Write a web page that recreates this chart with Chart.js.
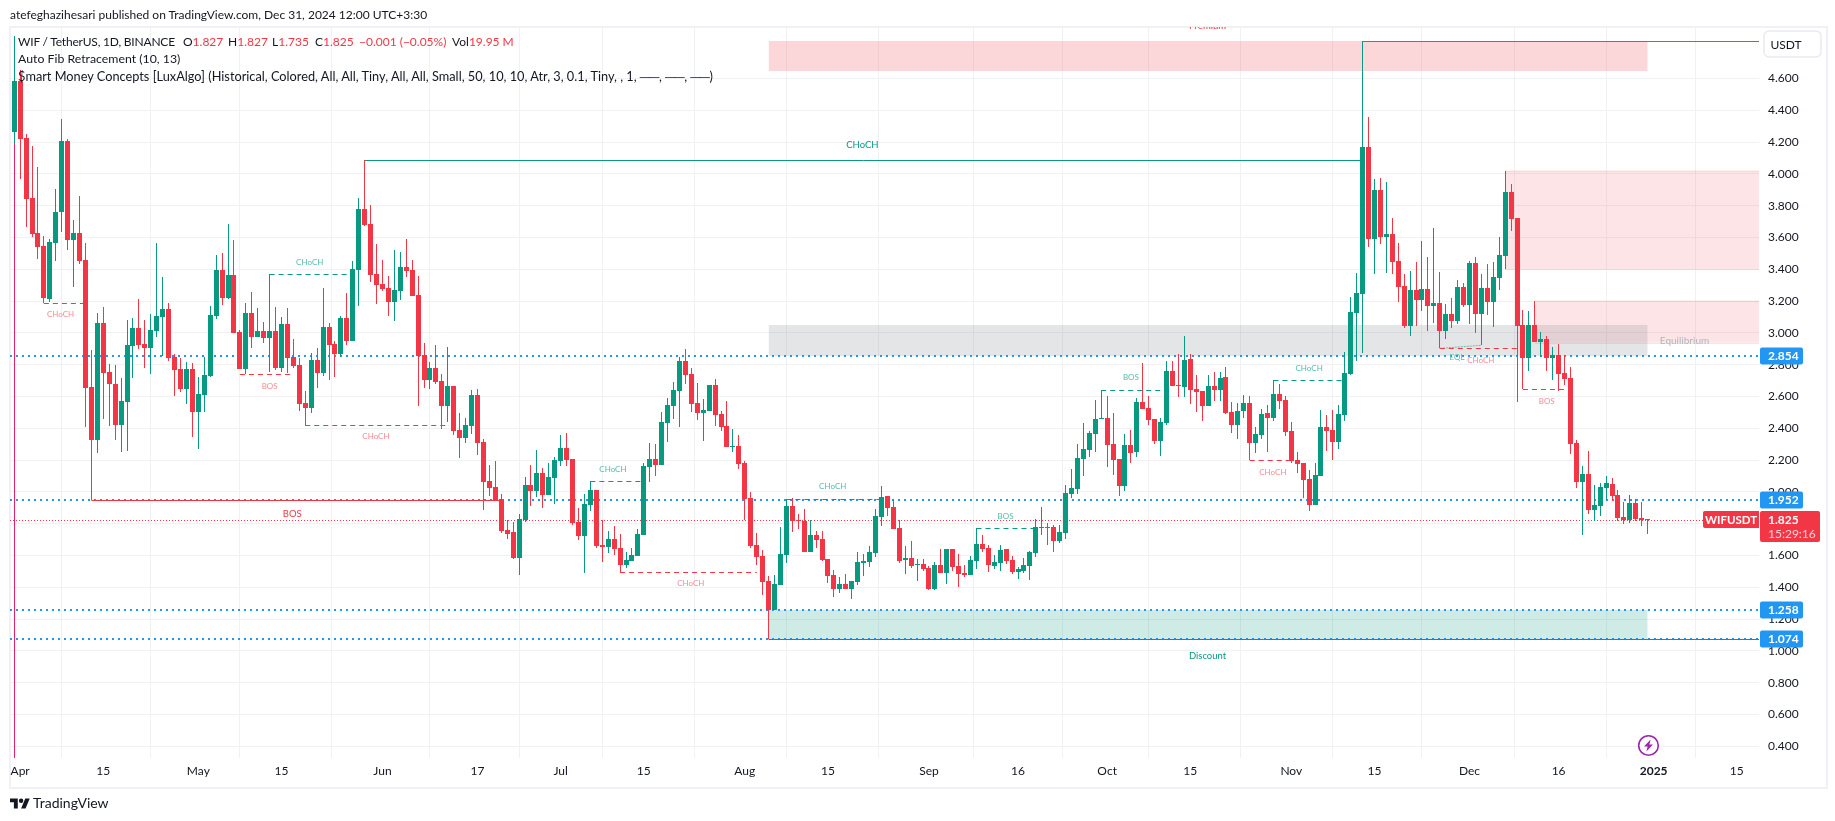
<!DOCTYPE html>
<html>
<head>
<meta charset="utf-8">
<title>WIF / TetherUS</title>
<script src="https://cdn.jsdelivr.net/npm/chart.js"></script>
<style>
html, body { margin: 0; padding: 0; background: #fff; }
body { width: 1835px; height: 821px; position: relative; overflow: hidden; font-family: Lato, sans-serif; color: #131722; }
#chart { position: absolute; left: 0; top: 0; }
.frame { position: absolute; left: 9px; top: 26px; width: 1815px; height: 759px; border: 2px solid #f0f0f6; box-sizing: content-box; pointer-events: none; }
.txt { position: absolute; white-space: pre; font-size: 12px; line-height: 16px; }
.red { color: #f23645; }
.logo { position: absolute; left: 10px; top: 796px; }
.bolt { position: absolute; left: 1637px; top: 734px; }
</style>
</head>
<body>
<div class="frame"></div>
<canvas id="chart" width="1835" height="821"></canvas>
<div class="txt" style="left:10px;top:7px">atefeghazihesari published on TradingView.com, Dec 31, 2024 12:00 UTC+3:30</div>
<div class="txt" style="left:18px;top:34px;letter-spacing:-.2px">WIF / TetherUS, 1D, BINANCE</div>
<div class="txt" style="left:183px;top:34px">O<span class="red">1.827</span></div>
<div class="txt" style="left:228px;top:34px">H<span class="red">1.827</span></div>
<div class="txt" style="left:272px;top:34px">L<span class="red">1.735</span></div>
<div class="txt" style="left:315px;top:34px">C<span class="red">1.825</span></div>
<div class="txt red" style="left:359px;top:34px">−0.001 (−0.05%)</div>
<div class="txt" style="left:452px;top:34px">Vol<span class="red">19.95 M</span></div>
<div class="txt" style="left:18px;top:51px;font-size:12.3px">Auto Fib Retracement (10, 13)</div>
<div class="txt" style="left:18px;top:68px;font-size:12.76px">$mart Money Concepts [LuxAlgo] (Historical, Colored, All, All, Tiny, All, All, Small, 50, 10, 10, Atr, 3, 0.1, Tiny, , 1, ──, ──, ──)</div>
<svg class="logo" width="20" height="16" viewBox="0 0 36 28"><path fill="#131722" d="M14 22H7V11H0V4h14v18zM28 22h-8l7.5-18h8L28 22z"/><circle fill="#131722" cx="20" cy="8" r="4"/></svg>
<div class="txt" style="left:33px;top:795px;font-size:14px">TradingView</div>
<svg class="bolt" width="23" height="23" viewBox="0 0 23 23"><circle cx="11.5" cy="11.5" r="9.8" fill="#fff" stroke="#9c27b0" stroke-width="1.6"/><path fill="#9c27b0" d="M13.6 5.6 7 12.6h3.6l-1.2 4.8 6.6-7h-3.6z"/></svg>

<script>
// Daily candles, 31 Mar 2024 to 31 Dec 2024. Index 0 is 31 Mar.
const opens = [
    4.264,4.585,4.226,3.849,3.629,3.547,3.216,3.566,3.761,4.207,3.585,3.629,3.459,2.66,2.327,3.062,2.754,2.679,2.421,2.566,
    2.918,3.031,2.93,2.905,3.012,3.1,3.15,2.849,2.773,2.647,2.773,2.503,2.61,2.729,3.106,3.396,3.22,3.364,3.006,2.773,
    3.125,2.974,3.012,2.968,3.012,2.779,3.056,2.849,2.798,2.559,2.528,2.83,2.748,3.037,2.93,2.867,3.094,2.949,3.396,3.78,
    3.685,3.371,3.308,3.283,3.195,3.264,3.415,3.396,3.24,2.861,2.704,2.779,2.698,2.54,2.666,2.389,2.339,2.414,2.609,2.314,
    2.068,2.031,1.955,1.76,1.748,1.584,1.823,2.043,2.006,2.119,1.98,2.087,2.194,2.276,2.207,1.811,1.723,1.917,2.012,1.666,
    1.653,1.703,1.647,1.54,1.565,1.597,1.729,2.156,2.207,2.169,2.433,2.54,2.634,2.823,2.741,2.559,2.496,2.509,2.672,2.49,
    2.414,2.282,2.289,2.182,1.962,1.666,1.597,1.439,1.257,1.414,1.603,1.911,1.823,1.817,1.622,1.729,1.703,1.578,1.477,1.389,
    1.421,1.389,1.433,1.553,1.559,1.616,1.842,1.974,1.905,1.773,1.572,1.584,1.54,1.546,1.521,1.389,1.54,1.49,1.641,1.534,
    1.49,1.477,1.565,1.672,1.647,1.534,1.553,1.641,1.572,1.496,1.502,1.534,1.616,1.773,1.779,1.779,1.691,1.741,1.987,2.018,
    2.207,2.263,2.364,2.458,2.465,2.301,2.207,2.037,2.295,2.251,2.565,2.528,2.458,2.32,2.433,2.76,2.672,2.66,2.836,2.647,
    2.634,2.54,2.666,2.641,2.722,2.502,2.421,2.509,2.559,2.307,2.358,2.496,2.465,2.616,2.578,2.383,2.2,2.182,2.081,1.917,
    2.1,2.408,2.389,2.314,2.483,2.741,3.125,3.245,4.169,3.59,3.899,3.603,3.622,3.452,3.295,3.043,3.27,3.207,3.276,3.169,
    3.188,3.012,3.119,3.075,3.289,3.175,3.44,3.119,3.282,3.194,3.345,3.484,3.886,3.723,3.05,2.842,3.05,2.943,2.962,2.842,
    2.861,2.748,2.716,2.307,2.062,2.112,1.886,1.911,2.024,2.05,1.98,1.842,1.823,1.93,1.836,1.827
];
const highs = [
    4.868,4.654,4.249,4.178,4.046,3.61,3.591,3.905,4.346,4.22,3.71,3.861,3.566,2.893,3.125,3.163,2.805,2.798,2.717,3.081,
    3.094,3.213,3.081,3.119,3.566,3.352,3.188,2.867,2.842,2.817,2.811,2.723,2.849,3.169,3.49,3.503,3.685,3.585,3.018,3.188,
    3.257,3.157,3.069,3.371,3.163,3.1,3.157,2.962,2.842,2.635,2.874,2.905,3.283,3.062,2.949,3.106,3.25,3.452,3.849,4.086,
    3.805,3.559,3.459,3.358,3.522,3.509,3.591,3.459,3.358,2.937,2.817,2.924,2.742,2.912,2.666,2.496,2.465,2.641,2.647,2.333,
    2.169,2.194,1.987,1.823,1.811,1.861,2.094,2.169,2.263,2.15,2.182,2.219,2.358,2.37,2.207,1.899,1.987,2.068,2.012,1.823,
    1.754,1.785,1.735,1.622,1.647,1.767,2.182,2.307,2.301,2.502,2.59,2.691,2.848,2.899,2.779,2.685,2.584,2.672,2.71,2.509,
    2.572,2.395,2.358,2.194,1.999,1.741,1.634,1.471,1.477,1.779,1.957,1.962,1.861,1.892,1.823,1.754,1.754,1.578,1.509,1.465,
    1.484,1.439,1.622,1.609,1.659,1.892,2.037,1.974,1.955,1.823,1.659,1.691,1.578,1.578,1.534,1.559,1.641,1.641,1.641,1.609,
    1.54,1.597,1.771,1.729,1.666,1.603,1.666,1.641,1.597,1.528,1.584,1.628,1.829,1.905,1.804,1.792,1.792,2.043,2.144,2.301,
    2.433,2.383,2.578,2.639,2.603,2.496,2.207,2.364,2.389,2.59,2.811,2.603,2.458,2.465,2.823,2.823,2.867,2.98,2.867,2.735,
    2.634,2.735,2.754,2.754,2.785,2.565,2.559,2.609,2.603,2.408,2.521,2.546,2.703,2.678,2.603,2.439,2.251,2.182,2.138,2.182,
    2.515,2.483,2.515,2.546,2.88,3.226,3.377,4.834,4.358,3.968,3.974,3.949,3.723,3.565,3.37,3.389,3.446,3.578,3.477,3.66,
    3.383,3.182,3.219,3.333,3.314,3.452,3.477,3.37,3.433,3.446,3.603,4.018,3.936,3.723,3.144,3.138,3.2,3.006,2.98,2.911,
    2.93,2.861,2.785,2.326,2.163,2.257,2.043,2.056,2.1,2.087,2.012,1.936,1.98,1.955,1.936,1.827
];
const lows = [
    4.193,3.968,3.668,3.606,3.465,3.186,3.192,3.453,3.635,3.522,3.291,3.434,2.408,1.947,2.245,2.459,2.415,2.327,2.251,2.257,
    2.717,2.899,2.779,2.742,2.974,2.855,2.823,2.603,2.628,2.553,2.345,2.27,2.503,2.723,3.088,3.176,3.213,3.0,2.773,2.74,
    2.905,2.974,2.937,2.754,2.767,2.754,2.748,2.779,2.509,2.415,2.496,2.654,2.729,2.704,2.723,2.849,2.924,2.949,3.169,3.673,
    3.318,3.182,3.264,3.106,3.075,3.207,3.352,3.23,2.54,2.654,2.647,2.68,2.396,2.44,2.358,2.213,2.307,2.364,2.232,1.886,
    1.974,1.949,1.741,1.703,1.578,1.477,1.811,1.911,1.968,1.899,1.98,1.924,2.163,2.163,1.792,1.697,1.49,1.88,1.647,1.559,
    1.616,1.603,1.494,1.521,1.565,1.597,1.729,2.062,2.1,2.169,2.314,2.458,2.408,2.678,2.502,2.452,2.32,2.509,2.414,2.383,
    2.282,2.251,2.144,1.823,1.647,1.54,1.351,1.074,1.257,1.414,1.553,1.748,1.767,1.622,1.622,1.647,1.565,1.427,1.339,1.364,
    1.389,1.326,1.414,1.471,1.527,1.591,1.785,1.848,1.767,1.553,1.483,1.521,1.439,1.502,1.383,1.383,1.49,1.421,1.502,1.402,
    1.465,1.477,1.515,1.622,1.496,1.515,1.502,1.546,1.483,1.452,1.49,1.446,1.591,1.729,1.666,1.622,1.678,1.704,1.962,1.987,
    2.1,2.219,2.251,2.458,2.156,2.106,1.974,2.005,2.182,2.219,2.521,2.421,2.301,2.226,2.421,2.666,2.597,2.597,2.553,2.502,
    2.446,2.54,2.572,2.572,2.49,2.37,2.333,2.465,2.2,2.245,2.333,2.251,2.446,2.521,2.352,2.182,2.119,1.962,1.88,1.917,
    2.1,2.257,2.2,2.27,2.446,2.735,2.823,2.876,3.54,3.37,3.559,3.377,3.37,3.194,3.031,2.98,3.043,3.138,3.012,3.062,
    2.903,2.962,3.03,3.056,3.163,3.056,2.999,2.924,3.113,3.037,3.27,3.402,3.641,2.565,2.645,2.76,2.943,2.848,2.76,2.704,
    2.634,2.672,2.238,2.024,1.729,1.861,1.817,1.848,1.949,1.943,1.817,1.798,1.804,1.817,1.785,1.735
];
const closes = [
    4.585,4.22,3.842,3.622,3.54,3.22,3.572,3.761,4.207,3.585,3.629,3.452,2.656,2.327,3.062,2.748,2.679,2.421,2.572,2.924,
    3.031,2.924,2.905,3.018,3.106,3.15,2.842,2.767,2.647,2.773,2.503,2.616,2.735,3.113,3.396,3.22,3.364,3.0,2.773,3.125,
    2.974,3.012,2.968,3.012,2.779,3.056,2.842,2.792,2.553,2.528,2.83,2.748,3.037,2.924,2.867,3.094,2.949,3.402,3.78,3.679,
    3.364,3.302,3.276,3.195,3.27,3.415,3.39,3.232,2.855,2.704,2.779,2.691,2.54,2.666,2.383,2.339,2.421,2.609,2.307,2.062,
    2.024,1.949,1.754,1.735,1.584,1.829,2.043,2.006,2.119,1.98,2.094,2.2,2.276,2.2,1.804,1.723,1.924,2.012,1.66,1.653,
    1.703,1.641,1.54,1.572,1.603,1.735,2.163,2.207,2.169,2.439,2.546,2.641,2.823,2.735,2.553,2.496,2.515,2.672,2.483,2.408,
    2.282,2.289,2.175,1.955,1.66,1.59,1.433,1.257,1.421,1.609,1.911,1.817,1.817,1.622,1.729,1.697,1.572,1.471,1.389,1.421,
    1.389,1.439,1.559,1.565,1.622,1.848,1.968,1.899,1.767,1.565,1.584,1.534,1.546,1.515,1.389,1.54,1.49,1.641,1.527,1.483,
    1.477,1.572,1.672,1.641,1.54,1.559,1.634,1.565,1.496,1.515,1.54,1.622,1.779,1.779,1.773,1.691,1.748,1.993,2.024,2.213,
    2.27,2.37,2.458,2.465,2.295,2.2,2.037,2.295,2.245,2.565,2.521,2.452,2.32,2.439,2.76,2.666,2.666,2.829,2.641,2.628,
    2.54,2.666,2.641,2.716,2.496,2.421,2.509,2.559,2.307,2.364,2.49,2.465,2.616,2.572,2.377,2.194,2.175,2.075,1.917,2.106,
    2.408,2.383,2.314,2.49,2.748,3.131,3.251,4.169,3.59,3.899,3.603,3.622,3.446,3.289,3.043,3.27,3.207,3.276,3.169,3.188,
    3.012,3.119,3.075,3.289,3.175,3.44,3.119,3.282,3.194,3.352,3.49,3.886,3.716,3.043,2.842,3.05,2.943,2.962,2.842,2.861,
    2.741,2.71,2.301,2.062,2.112,1.886,1.917,2.031,2.056,1.974,1.836,1.823,1.93,1.829,1.823,1.825
];

// Date axis: candle index of each tick, with its label
const tickIndex = [1, 15, 31, 45, 62, 78, 92, 106, 123, 137, 154, 169, 184, 198, 215, 229, 245, 260, 276, 290];
const tickLabels = ['Apr', '15', 'May', '15', 'Jun', '17', 'Jul', '15', 'Aug', '15', 'Sep', '16', 'Oct', '15', 'Nov', '15', 'Dec', '16', '2025', '15'];
const priceTicks = [0.4, 0.6, 0.8, 1.0, 1.2, 1.4, 1.6, 1.8, 2.0, 2.2, 2.4, 2.6, 2.8, 3.0, 3.2, 3.4, 3.6, 3.8, 4.0, 4.2, 4.4, 4.6];

// Auto Fib levels and last price
const fibLevels = [2.854, 1.952, 1.258, 1.074];
const lastPrice = 1.825;

// Smart Money zones: premium, equilibrium, discount, then two order blocks
const zoneStart = [127, 127, 127, 251, 256];
const zoneEnd = [275, 275, 275, 294, 294];
const zoneTop = [4.836, 3.05, 1.258, 4.018, 3.2];
const zoneBottom = [4.647, 2.854, 1.074, 3.402, 2.938];

// Dashed structure breaks
const breakSide = ['down', 'up', 'down', 'down', 'up', 'down', 'up', 'up', 'up', 'up', 'down', 'down', 'down'];
const breakStart = [5, 43, 38, 49, 97, 102, 130, 162, 183, 212, 208, 240, 254];
const breakEnd = [12, 57, 47, 73, 106, 125, 146, 172, 194, 224, 215, 253, 261];
const breakLevel = [3.186, 3.371, 2.74, 2.419, 2.066, 1.494, 1.957, 1.771, 2.639, 2.702, 2.198, 2.903, 2.645];

// Text on the chart: small marks, then large marks and zone names
const noteText = ['CHoCH', 'CHoCH', 'BOS', 'CHoCH', 'CHoCH', 'CHoCH', 'CHoCH', 'BOS', 'BOS', 'CHoCH', 'CHoCH', 'CHoCH', 'EQL', 'BOS', 'BOS', 'CHoCH', 'Premium', 'Equilibrium', 'Discount'];
const noteIndex = [7.8, 49.75, 43, 60.9, 100.8, 113.9, 137.8, 166.9, 188, 218, 211.9, 246.9, 242.9, 258, 46.8, 142.8, 200.9, 281.2, 200.9];
const notePrice = [3.117, 3.444, 2.664, 2.35, 2.14, 1.425, 2.035, 1.846, 2.72, 2.777, 2.123, 2.827, 2.844, 2.569, 1.859, 4.182, 4.933, 2.951, 0.969];
const noteSide = ['down', 'up', 'down', 'down', 'up', 'down', 'up', 'up', 'up', 'up', 'down', 'down', 'up', 'down', 'down', 'up', 'down', 'zone', 'up'];

const UP = '#089981', DOWN = '#f23645';
const FONT = 'Lato, sans-serif';
const X_MIN = -0.707, X_MAX = 293.74;
const Y_MIN = 0.3264, Y_MAX = 4.924;

const candleColors = closes.map((c, i) => (c >= opens[i] ? UP : DOWN));

function lineSet(points, color, width, dash, order, extra) {
    return Object.assign({
        type: 'line', data: points, borderColor: color, borderWidth: width, borderDash: dash || [],
        pointRadius: 0, tension: 0, fill: false, order: order, snap: true
    }, extra || {});
}

const datasets = [];

// zones sit behind everything
const zoneColors = ['rgba(242,54,69,.2)', 'rgba(120,123,134,.2)', 'rgba(8,153,129,.2)', 'rgba(242,54,69,.13)', 'rgba(242,54,69,.13)'];
zoneStart.forEach((start, z) => {
    datasets.push(lineSet(
        [{ x: start, y: zoneTop[z] }, { x: zoneEnd[z], y: zoneTop[z] }],
        z > 2 ? 'rgba(242,54,69,.15)' : 'transparent', z > 2 ? 1 : 0, null, 9,
        { fill: { value: zoneBottom[z] }, backgroundColor: zoneColors[z], snap: false }
    ));
    if (z > 2) datasets.push(lineSet([{ x: start, y: zoneBottom[z] }, { x: zoneEnd[z], y: zoneBottom[z] }], 'rgba(242,54,69,.15)', 1, null, 9));
});

// fib levels and last price, dotted across the whole pane
fibLevels.forEach(level => {
    datasets.push(lineSet([{ x: X_MIN, y: level }, { x: X_MAX, y: level }], '#2196f3', 2, [2, 4], 8));
});
datasets.push(lineSet([{ x: X_MIN, y: lastPrice }, { x: X_MAX, y: lastPrice }], DOWN, 1, [1, 2], 8));

// solid structure lines
datasets.push(lineSet([{ x: 13, y: 1.947 }, { x: 82, y: 1.947 }], DOWN, 1, null, 7));
datasets.push(lineSet([{ x: 59, y: 4.086 }, { x: 227, y: 4.086 }], UP, 1, null, 7));
datasets.push(lineSet([{ x: 227, y: 4.834 }, { x: X_MAX, y: 4.834 }], '#e04550', 1, null, 7));
datasets.push(lineSet([{ x: 127, y: 1.074 }, { x: X_MAX, y: 1.074 }], UP, 1, null, 7));
// the pink session line under the first candle
datasets.push(lineSet([{ x: 0, y: 4.193 }, { x: 0, y: Y_MIN }], '#e91e63', 1, null, 7, { snap: 'x' }));

breakStart.forEach((start, b) => {
    datasets.push(lineSet([{ x: start, y: breakLevel[b] }, { x: breakEnd[b], y: breakLevel[b] }], breakSide[b] === 'up' ? UP : DOWN, 1, [5, 4], 7));
});
// equal lows
datasets.push(lineSet([{ x: 240, y: 2.903 }, { x: 247, y: 2.922 }], '#5fbfae', 1, [2, 1], 7, { snap: false }));

datasets.push({
    type: 'bar', label: 'wick', order: 2, grouped: false, barThickness: 1, inflateAmount: 0, borderWidth: 0,
    data: highs.map((h, i) => ({ x: i, y: [lows[i], h] })), backgroundColor: candleColors
});
datasets.push({
    type: 'bar', label: 'body', order: 1, grouped: false, barThickness: 5, inflateAmount: 0, borderWidth: 0,
    data: opens.map((o, i) => ({ x: i, y: [o, closes[i]] })), backgroundColor: candleColors
});

// Chart.js leaves marks on fractional pixels, TradingView draws them crisp
const pixelSnap = {
    id: 'pixelSnap',
    afterDatasetsUpdate(chart) {
        chart.data.datasets.forEach((ds, k) => {
            const els = chart.getDatasetMeta(k).data;
            if (ds.type === 'bar') {
                els.forEach(el => {
                    const top = Math.round(Math.min(el.y, el.base));
                    let bottom = Math.round(Math.max(el.y, el.base));
                    if (bottom === top) bottom = top + 1;
                    el.x = Math.floor(el.x) + 0.5;
                    el.y = top;
                    el.base = bottom;
                });
            } else if (ds.snap === true) {
                const half = ds.borderWidth % 2 ? 0.5 : 0;
                els.forEach(el => { el.y = Math.round(el.y) + half; });
            } else if (ds.snap === 'x') {
                els.forEach(el => { el.x = Math.floor(el.x) + 0.5; });
            }
        });
    }
};

function noteStyle(i) {
    const small = i < 14;
    if (noteSide[i] === 'zone') return { font: '10px ' + FONT, color: '#b2b5be' };
    const color = noteSide[i] === 'up' ? (small ? '#55bcab' : UP) : (small ? '#fa8b94' : DOWN);
    return { font: (small ? '8px ' : '9.5px ') + FONT, color };
}

const chartNotes = {
    id: 'chartNotes',
    afterDatasetsDraw(chart) {
        const { ctx, chartArea, scales } = chart;
        ctx.save();
        ctx.beginPath();
        ctx.rect(chartArea.left, chartArea.top, chartArea.right - chartArea.left, chartArea.bottom - chartArea.top);
        ctx.clip();
        ctx.textAlign = 'center';
        ctx.textBaseline = 'middle';
        noteText.forEach((text, i) => {
            const st = noteStyle(i);
            ctx.font = st.font;
            ctx.fillStyle = st.color;
            ctx.fillText(text, scales.x.getPixelForValue(noteIndex[i]), scales.y.getPixelForValue(notePrice[i]));
        });
        ctx.restore();
    }
};

function roundBox(ctx, x, y, w, h, r, fill) {
    ctx.beginPath();
    ctx.roundRect(x, y, w, h, r);
    ctx.fillStyle = fill;
    ctx.fill();
}

// Price tags on the axis go over the tick labels
const axisTags = {
    id: 'axisTags',
    afterDraw(chart) {
        const { ctx, chartArea, scales } = chart;
        const left = Math.round(chartArea.right) + 1;
        ctx.save();
        ctx.textBaseline = 'middle';
        ctx.font = 'bold 12px ' + FONT;
        fibLevels.forEach(level => {
            const y = Math.round(scales.y.getPixelForValue(level));
            roundBox(ctx, left, y - 8.5, 43, 17, 2, '#2196f3');
            ctx.fillStyle = '#fff';
            ctx.textAlign = 'left';
            ctx.fillText(level.toFixed(3), left + 8, y + 0.5);
        });
        const y = Math.round(scales.y.getPixelForValue(lastPrice));
        roundBox(ctx, left, y - 9, 60, 31, 2, DOWN);
        ctx.fillStyle = '#fff';
        ctx.fillText(lastPrice.toFixed(3), left + 8, y);
        ctx.font = '12px ' + FONT;
        ctx.fillStyle = '#ffd3d7';
        ctx.fillText('15:29:16', left + 8, y + 14);
        roundBox(ctx, left - 57, y - 9, 56, 17, [2, 0, 0, 2], DOWN);
        ctx.font = 'bold 11.5px ' + FONT;
        ctx.fillStyle = '#fff';
        ctx.textAlign = 'center';
        ctx.fillText('WIFUSDT', left - 29, y);
        // currency button
        ctx.beginPath();
        ctx.roundRect(1764, 31, 57, 26, 5);
        ctx.strokeStyle = '#e8eaf0';
        ctx.lineWidth = 1.5;
        ctx.stroke();
        ctx.font = '12px ' + FONT;
        ctx.fillStyle = '#131722';
        ctx.fillText('USDT', 1786, 45);
        ctx.restore();
    }
};

new Chart(document.getElementById('chart').getContext('2d'), {
    data: { datasets },
    plugins: [pixelSnap, chartNotes, axisTags],
    options: {
        responsive: false,
        animation: false,
        events: [],
        layout: { padding: { left: 10, top: 27, right: 0, bottom: 0 } },
        plugins: { legend: { display: false }, tooltip: { enabled: false } },
        scales: {
            x: {
                type: 'linear', min: X_MIN, max: X_MAX, offset: false,
                grid: { color: '#f0f1f3', tickLength: 0 },
                border: { display: false },
                afterBuildTicks(scale) { scale.ticks = tickIndex.map(v => ({ value: v })); },
                afterFit(scale) { scale.height = 63; },
                ticks: {
                    padding: 6, maxRotation: 0, autoSkip: false, color: '#131722',
                    font: ctx => ({ family: FONT, size: 12, weight: tickLabels[ctx.index] === '2025' ? 'bold' : 'normal' }),
                    callback: (v, i) => tickLabels[i]
                }
            },
            y: {
                type: 'linear', position: 'right', min: Y_MIN, max: Y_MAX,
                grid: { color: '#f0f1f3', tickLength: 0 },
                border: { display: false },
                afterBuildTicks(scale) { scale.ticks = priceTicks.map(v => ({ value: v })); },
                afterFit(scale) { scale.width = 76; },
                ticks: {
                    padding: 9, color: '#131722', autoSkip: false,
                    font: { family: FONT, size: 12 },
                    callback: v => v.toFixed(3)
                }
            }
        }
    }
});
</script>
</body>
</html>
